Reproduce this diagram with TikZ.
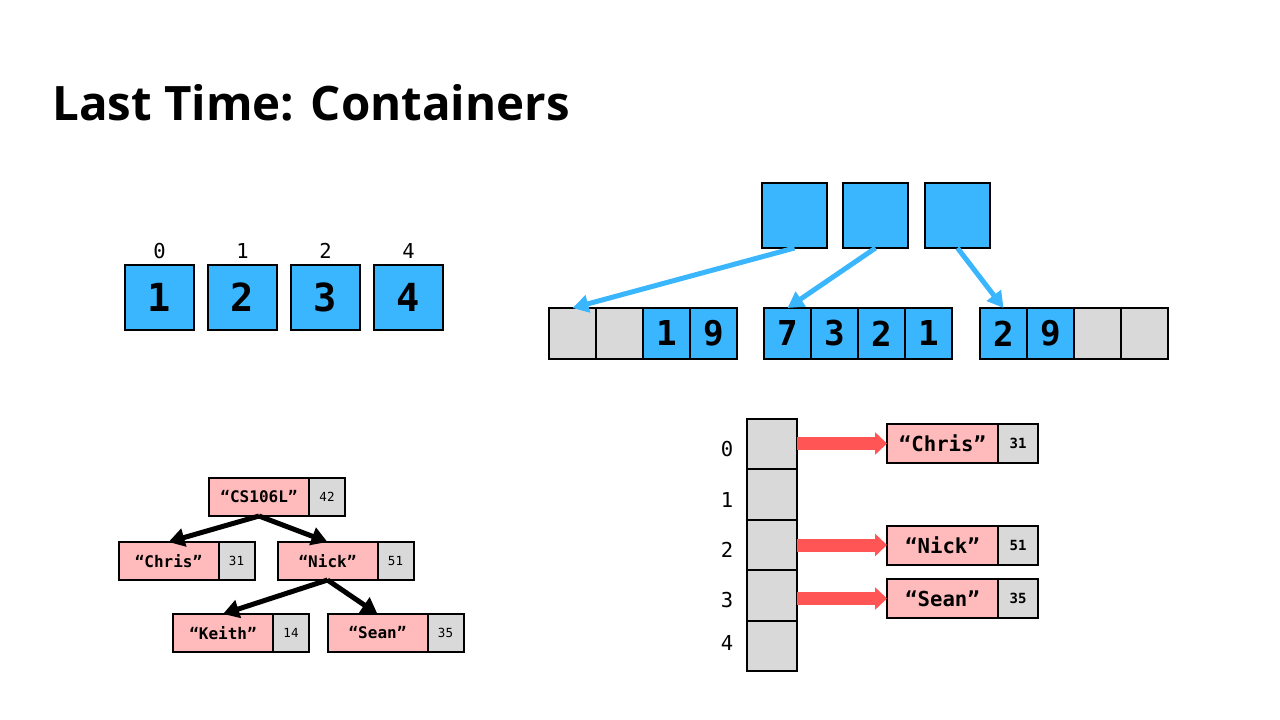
\documentclass[tikz,border=0pt]{standalone}
\usepackage{fontspec}
\setmainfont{Open Sans}
\newfontfamily\mono{DejaVu Sans Mono}
\usetikzlibrary{arrows.meta,calc}
\definecolor{cblue}{RGB}{58,182,255}
\definecolor{cpink}{RGB}{255,187,187}
\definecolor{cgray}{RGB}{217,217,217}
\definecolor{cred}{RGB}{255,85,85}
\begin{document}
\begin{tikzpicture}[x=0.75pt,y=-0.75pt,
  box/.style={draw=black,line width=1.5pt,inner sep=0pt,outer sep=0pt},
  vbox/.style={box,fill=cblue,minimum width=51.75pt,minimum height=48.75pt,font=\mono\bfseries\fontsize{29}{29}\selectfont},
  idx/.style={inner sep=0pt,font=\mono\fontsize{15.4}{16}\selectfont},
  tbox/.style={box,fill=cblue,minimum width=48.75pt,minimum height=48.75pt},
  dcell/.style={box,minimum width=35.25pt,minimum height=38.25pt,font=\mono\bfseries\fontsize{25.7}{26}\selectfont},
  barrow/.style={draw=cblue,line width=3.75pt,-{Triangle[length=12pt,width=13pt]}},
  pk/.style={box,fill=cpink,minimum width=75pt,minimum height=28.5pt,font=\mono\bfseries\fontsize{12}{12}\selectfont},
  gy/.style={box,fill=cgray,minimum width=27pt,minimum height=28.5pt,font=\mono\fontsize{9.4}{10}\selectfont},
  tarrow/.style={draw=black,line width=3.75pt,-{Triangle[length=12pt,width=13.5pt]}},
  hcell/.style={box,fill=cgray,minimum width=37.5pt,minimum height=37.8pt},
  hp/.style={box,fill=cpink,minimum width=83.25pt,minimum height=29.25pt,font=\mono\bfseries\fontsize{15.5}{16}\selectfont},
  hg/.style={box,fill=cgray,minimum width=30pt,minimum height=29.25pt,font=\mono\bfseries\fontsize{10.5}{11}\selectfont},
  rarrow/.style={draw=cred,line width=9.75pt,-{Triangle[length=9pt,width=16.5pt]}}
]
\useasboundingbox (0,0) rectangle (1280,720);

% title
\node[anchor=base west,inner sep=0pt,font=\bfseries\fontsize{35.6}{40}\selectfont] (title) at (52,121) {Last Time: Containers};

% vector
\foreach \x/\v/\l [count=\k from 0] in {159.5/1/0, 242.5/2/1, 325.5/3/2, 408.5/4/4} {
  \node[vbox] (v\k) at (\x,297.5) {\v};
  \node[idx] (vl\k) at (\x,251) {\l};
}

% deque
\node[tbox] (t1) at (794.5,215.5) {};
\node[tbox] (t2) at (875.5,215.5) {};
\node[tbox] (t3) at (957.5,215.5) {};
\foreach \x/\v/\f [count=\k] in {572.5//cgray, 619.5//cgray, 666.5/1/cblue, 713.5/9/cblue}
  \node[dcell,fill=\f] (a1\k) at (\x,333.5) {\v};
\foreach \x/\v/\f [count=\k] in {787.5/7/cblue, 834.5/3/cblue, 881.5/2/cblue, 928.5/1/cblue}
  \node[dcell,fill=\f] (a2\k) at (\x,333.5) {\v};
\foreach \x/\v/\f [count=\k] in {1003.5/2/cblue, 1050.5/9/cblue, 1097.5//cgray, 1144.5//cgray}
  \node[dcell,fill=\f] (a3\k) at (\x,333.5) {\v};
\draw[barrow] (t1.south) -- (a11.north);
\draw[barrow] (t2.south) -- (a21.north);
\draw[barrow] (t3.south) -- (a31.north);

% tree
\node[pk] (cs) at (259,497) {“CS106L”};
\node[gy,anchor=west] (csv) at (cs.east) {42};
\node[pk] (chris) at (168.5,561) {“Chris”};
\node[gy,anchor=west] (chrisv) at (chris.east) {31};
\node[pk] (nick) at (327.5,561) {“Nick”};
\node[gy,anchor=west] (nickv) at (nick.east) {51};
\node[pk] (keith) at (223,633) {“Keith”};
\node[gy,anchor=west] (keithv) at (keith.east) {14};
\node[pk] (sean) at (377.5,633) {“Sean”};
\node[gy,anchor=west] (seanv) at (sean.east) {35};
\draw[tarrow] (cs.south) -- (chris.north);
\draw[tarrow] (cs.south) -- (nick.north);
\draw[tarrow] (nick.south) -- (keith.north);
\draw[tarrow] (nick.south) -- (sean.north);

% hash map
\foreach \y/\ly [count=\k from 0] in {444.2/449, 494.6/500, 545/550, 595.4/600, 645.8/643} {
  \node[hcell] (h\k) at (772,\y) {};
  \node[idx] (hl\k) at (727,\ly) {\k};
}
\node[hp] (hchris) at (942.5,443.5) {“Chris”};
\node[hg,anchor=west] (hchrisv) at (hchris.east) {31};
\node[hp] (hnick) at (942.5,545) {“Nick”};
\node[hg,anchor=west] (hnickv) at (hnick.east) {51};
\node[hp] (hsean) at (942.5,598.5) {“Sean”};
\node[hg,anchor=west] (hseanv) at (hsean.east) {35};
\draw[rarrow] (h0.east |- hchris.west) -- (hchris.west);
\draw[rarrow] (h2.east |- hnick.west) -- (hnick.west);
\draw[rarrow] (h3.east |- hsean.west) -- (hsean.west);
\end{tikzpicture}
\end{document}
